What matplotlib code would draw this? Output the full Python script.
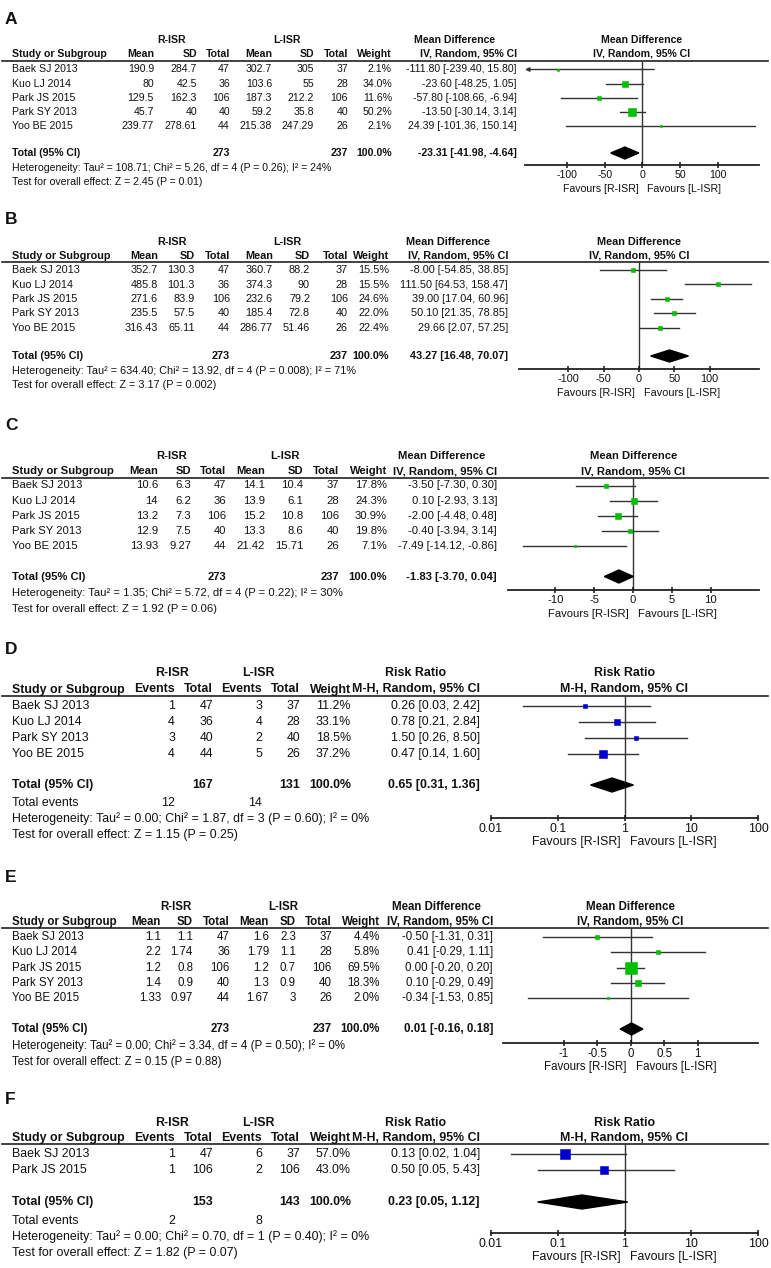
import numpy as np
import matplotlib.pyplot as plt
from matplotlib.patches import Polygon

plt.rcParams['font.family'] = ['Liberation Sans', 'DejaVu Sans']

W, H = 771, 1268

# ---------------- data ----------------
studies5 = ['Baek SJ 2013', 'Kuo LJ 2014', 'Park JS 2015', 'Park SY 2013', 'Yoo BE 2015']
r_n5 = [47, 36, 106, 40, 44]
l_n5 = [37, 28, 106, 40, 26]
md_totals = [273, 237]

# A
a_r_mean = [190.9, 80, 129.5, 45.7, 239.77]
a_r_sd = [284.7, 42.5, 162.3, 40, 278.61]
a_l_mean = [302.7, 103.6, 187.3, 59.2, 215.38]
a_l_sd = [305, 55, 212.2, 35.8, 247.29]
a_weight = [2.1, 34.0, 11.6, 50.2, 2.1]
a_est = [-111.80, -23.60, -57.80, -13.50, 24.39]
a_lo = [-239.40, -48.25, -108.66, -30.14, -101.36]
a_hi = [15.80, 1.05, -6.94, 3.14, 150.14]
a_pooled = [-23.31, -41.98, -4.64]
a_het = 'Heterogeneity: Tau² = 108.71; Chi² = 5.26, df = 4 (P = 0.26); I² = 24%'
a_test = 'Test for overall effect: Z = 2.45 (P = 0.01)'

# B
b_r_mean = [352.7, 485.8, 271.6, 235.5, 316.43]
b_r_sd = [130.3, 101.3, 83.9, 57.5, 65.11]
b_l_mean = [360.7, 374.3, 232.6, 185.4, 286.77]
b_l_sd = [88.2, 90, 79.2, 72.8, 51.46]
b_weight = [15.5, 15.5, 24.6, 22.0, 22.4]
b_est = [-8.00, 111.50, 39.00, 50.10, 29.66]
b_lo = [-54.85, 64.53, 17.04, 21.35, 2.07]
b_hi = [38.85, 158.47, 60.96, 78.85, 57.25]
b_pooled = [43.27, 16.48, 70.07]
b_het = 'Heterogeneity: Tau² = 634.40; Chi² = 13.92, df = 4 (P = 0.008); I² = 71%'
b_test = 'Test for overall effect: Z = 3.17 (P = 0.002)'

# C
c_r_mean = [10.6, 14, 13.2, 12.9, 13.93]
c_r_sd = [6.3, 6.2, 7.3, 7.5, 9.27]
c_l_mean = [14.1, 13.9, 15.2, 13.3, 21.42]
c_l_sd = [10.4, 6.1, 10.8, 8.6, 15.71]
c_weight = [17.8, 24.3, 30.9, 19.8, 7.1]
c_est = [-3.50, 0.10, -2.00, -0.40, -7.49]
c_lo = [-7.30, -2.93, -4.48, -3.94, -14.12]
c_hi = [0.30, 3.13, 0.48, 3.14, -0.86]
c_pooled = [-1.83, -3.70, 0.04]
c_het = 'Heterogeneity: Tau² = 1.35; Chi² = 5.72, df = 4 (P = 0.22); I² = 30%'
c_test = 'Test for overall effect: Z = 1.92 (P = 0.06)'

# D
d_studies = ['Baek SJ 2013', 'Kuo LJ 2014', 'Park SY 2013', 'Yoo BE 2015']
d_r_ev = [1, 4, 3, 4]
d_r_n = [47, 36, 40, 44]
d_l_ev = [3, 4, 2, 5]
d_l_n = [37, 28, 40, 26]
d_weight = [11.2, 33.1, 18.5, 37.2]
d_est = [0.26, 0.78, 1.50, 0.47]
d_lo = [0.03, 0.21, 0.26, 0.14]
d_hi = [2.42, 2.84, 8.50, 1.60]
d_totals = [167, 131]
d_events = [12, 14]
d_pooled = [0.65, 0.31, 1.36]
d_het = 'Heterogeneity: Tau² = 0.00; Chi² = 1.87, df = 3 (P = 0.60); I² = 0%'
d_test = 'Test for overall effect: Z = 1.15 (P = 0.25)'

# E
e_r_mean = [1.1, 2.2, 1.2, 1.4, 1.33]
e_r_sd = [1.1, 1.74, 0.8, 0.9, 0.97]
e_l_mean = [1.6, 1.79, 1.2, 1.3, 1.67]
e_l_sd = [2.3, 1.1, 0.7, 0.9, 3]
e_weight = [4.4, 5.8, 69.5, 18.3, 2.0]
e_est = [-0.50, 0.41, 0.00, 0.10, -0.34]
e_lo = [-1.31, -0.29, -0.20, -0.29, -1.53]
e_hi = [0.31, 1.11, 0.20, 0.49, 0.85]
e_pooled = [0.01, -0.16, 0.18]
e_het = 'Heterogeneity: Tau² = 0.00; Chi² = 3.34, df = 4 (P = 0.50); I² = 0%'
e_test = 'Test for overall effect: Z = 0.15 (P = 0.88)'

# F
f_studies = ['Baek SJ 2013', 'Park JS 2015']
f_r_ev = [1, 1]
f_r_n = [47, 106]
f_l_ev = [6, 2]
f_l_n = [37, 106]
f_weight = [57.0, 43.0]
f_est = [0.13, 0.50]
f_lo = [0.02, 0.05]
f_hi = [1.04, 5.43]
f_totals = [153, 143]
f_events = [2, 8]
f_pooled = [0.23, 0.05, 1.12]
f_het = 'Heterogeneity: Tau² = 0.00; Chi² = 0.70, df = 1 (P = 0.40); I² = 0%'
f_test = 'Test for overall effect: Z = 1.82 (P = 0.07)'

md_ticks = {'A': [-100, -50, 0, 50, 100], 'B': [-100, -50, 0, 50, 100],
            'C': [-10, -5, 0, 5, 10], 'E': [-1, -0.5, 0, 0.5, 1]}
rr_ticks = [0.01, 0.1, 1, 10, 100]
rr_ticklabels = ['0.01', '0.1', '1', '10', '100']


def md_rows(r_mean, r_sd, l_mean, l_sd, weight, est, lo, hi):
    rows = []
    for i in range(len(studies5)):
        rows.append([studies5[i], '%g' % r_mean[i], '%g' % r_sd[i], '%d' % r_n5[i],
                     '%g' % l_mean[i], '%g' % l_sd[i], '%d' % l_n5[i],
                     '%.1f%%' % weight[i], '%.2f [%.2f, %.2f]' % (est[i], lo[i], hi[i])])
    return rows


def rr_rows(studies, r_ev, r_n, l_ev, l_n, weight, est, lo, hi):
    rows = []
    for i in range(len(studies)):
        rows.append([studies[i], '%d' % r_ev[i], '%d' % r_n[i], '%d' % l_ev[i], '%d' % l_n[i],
                     '%.1f%%' % weight[i], '%.2f [%.2f, %.2f]' % (est[i], lo[i], hi[i])])
    return rows


# layout of each panel (pixel positions, y from top)
panels = [
    dict(letter='A', kind='md', fs=7.6, label=20, h1=40, h2=54, line=60.5, row0=69.5, step=14.2,
         total=153, het=168, test=182, axis=165, cols=[154, 197, 230, 272, 314, 348, 392, 517],
         grp=[172, 287], axpx=[525, 759], xlim=(-156, 155), sq=1.13, dia=6,
         rows=md_rows(a_r_mean, a_r_sd, a_l_mean, a_l_sd, a_weight, a_est, a_lo, a_hi),
         est=a_est, lo=a_lo, hi=a_hi, weight=a_weight, pooled=a_pooled, totals=md_totals,
         het_s=a_het, test_s=a_test),
    dict(letter='B', kind='md', fs=7.85, label=220, h1=242, h2=256, line=261.5, row0=270, step=14.5,
         total=356, het=371, test=385, axis=369, cols=[158, 195, 230, 273, 310, 348, 389, 508],
         grp=[172, 287], axpx=[519, 759], xlim=(-170, 170), sq=1.0, dia=6,
         rows=md_rows(b_r_mean, b_r_sd, b_l_mean, b_l_sd, b_weight, b_est, b_lo, b_hi),
         est=b_est, lo=b_lo, hi=b_hi, weight=b_weight, pooled=b_pooled, totals=md_totals,
         het_s=b_het, test_s=b_test),
    dict(letter='C', kind='md', fs=8.1, label=426, h1=456, h2=471.5, line=477.5, row0=485.5, step=15.2,
         total=576.5, het=593, test=609, axis=590, cols=[158, 191, 226, 265, 303, 339, 387, 497],
         grp=[172, 285], axpx=[508, 759], xlim=(-16.1, 16.2), sq=1.08, dia=6.5,
         rows=md_rows(c_r_mean, c_r_sd, c_l_mean, c_l_sd, c_weight, c_est, c_lo, c_hi),
         est=c_est, lo=c_lo, hi=c_hi, weight=c_weight, pooled=c_pooled, totals=md_totals,
         het_s=c_het, test_s=c_test),
    dict(letter='D', kind='rr', fs=8.9, label=650, h1=673.5, h2=689.5, line=696, row0=706, step=16,
         total=785, events=803, het=819, test=835, axis=818, cols=[175, 213, 262, 300, 351, 480],
         grp=[172, 258], axpx=[491, 758], xlim=(0.01, 100), sq=1.15, dia=7,
         rows=rr_rows(d_studies, d_r_ev, d_r_n, d_l_ev, d_l_n, d_weight, d_est, d_lo, d_hi),
         est=d_est, lo=d_lo, hi=d_hi, weight=d_weight, pooled=d_pooled, totals=d_totals,
         ev=d_events, het_s=d_het, test_s=d_test),
    dict(letter='E', kind='md', fs=8.3, label=877, h1=907, h2=922, line=927.5, row0=937, step=15.3,
         total=1029, het=1046, test=1062, axis=1043, cols=[161, 193, 230, 269, 296, 332, 380, 493],
         grp=[176, 283], axpx=[503, 758], xlim=(-1.91, 1.9), sq=1.44, dia=6,
         rows=md_rows(e_r_mean, e_r_sd, e_l_mean, e_l_sd, e_weight, e_est, e_lo, e_hi),
         est=e_est, lo=e_lo, hi=e_hi, weight=e_weight, pooled=e_pooled, totals=md_totals,
         het_s=e_het, test_s=e_test),
    dict(letter='F', kind='rr', fs=8.9, label=1100, h1=1123, h2=1138, line=1144, row0=1154, step=16.3,
         total=1202, events=1221, het=1237, test=1253, axis=1233, cols=[175, 213, 262, 300, 351, 480],
         grp=[172, 258], axpx=[491, 758], xlim=(0.01, 100), sq=1.32, dia=7,
         rows=rr_rows(f_studies, f_r_ev, f_r_n, f_l_ev, f_l_n, f_weight, f_est, f_lo, f_hi),
         est=f_est, lo=f_lo, hi=f_hi, weight=f_weight, pooled=f_pooled, totals=f_totals,
         ev=f_events, het_s=f_het, test_s=f_test),
]

fig = plt.figure(figsize=(W / 100, H / 100), dpi=100)
bg = fig.add_axes([0, 0, 1, 1])
bg.set_xlim(0, W)
bg.set_ylim(H, 0)
bg.axis('off')


def put(x, y, s, fs, ha='left', bold=False):
    bg.text(x, y, s, fontsize=fs, ha=ha, va='center', color='#111111',
            fontweight='bold' if bold else 'normal')


def draw_table(p):
    fs = p['fs']
    cols = p['cols']
    put(5, p['label'], p['letter'], 12.5, bold=True)
    put(p['grp'][0], p['h1'], 'R-ISR', fs, ha='center', bold=True)
    put(p['grp'][1], p['h1'], 'L-ISR', fs, ha='center', bold=True)
    if p['kind'] == 'md':
        effect, method = 'Mean Difference', 'IV, Random, 95% CI'
        names = ['Mean', 'SD', 'Total', 'Mean', 'SD', 'Total', 'Weight', method]
        n_cols = [cols[2], cols[5]]
    else:
        effect, method = 'Risk Ratio', 'M-H, Random, 95% CI'
        names = ['Events', 'Total', 'Events', 'Total', 'Weight', method]
        n_cols = [cols[1], cols[3]]
    put((cols[-2] + cols[-1]) / 2, p['h1'], effect, fs, ha='center', bold=True)
    put(12, p['h2'], 'Study or Subgroup', fs, bold=True)
    for x, name in zip(cols, names):
        put(x, p['h2'], name, fs, ha='right', bold=True)
    bg.plot([2, 768], [p['line'], p['line']], color='#222222', lw=1.2)

    for i, row in enumerate(p['rows']):
        ry = p['row0'] + i * p['step']
        put(12, ry, row[0], fs)
        for x, val in zip(cols, row[1:]):
            put(x, ry, val, fs, ha='right')

    # total row
    put(12, p['total'], 'Total (95% CI)', fs, bold=True)
    put(n_cols[0], p['total'], '%d' % p['totals'][0], fs, ha='right', bold=True)
    put(n_cols[1], p['total'], '%d' % p['totals'][1], fs, ha='right', bold=True)
    put(cols[-2], p['total'], '100.0%', fs, ha='right', bold=True)
    put(cols[-1], p['total'], '%.2f [%.2f, %.2f]' % tuple(p['pooled']), fs, ha='right', bold=True)
    if p['kind'] == 'rr':
        put(12, p['events'], 'Total events', fs)
        put(cols[0], p['events'], '%d' % p['ev'][0], fs, ha='right')
        put(cols[2], p['events'], '%d' % p['ev'][1], fs, ha='right')
    put(12, p['het'], p['het_s'], fs)
    put(12, p['test'], p['test_s'], fs)

    # header of the forest part
    cx = (p['axpx'][0] + p['axpx'][1]) / 2
    put(cx, p['h1'], effect, fs, ha='center', bold=True)
    put(cx, p['h2'], method, fs, ha='center', bold=True)


def draw_forest(p):
    x0, x1 = p['axpx']
    top, bot = p['line'], p['axis']
    ax = fig.add_axes([x0 / W, 1 - bot / H, (x1 - x0) / W, (bot - top) / H])
    ax.patch.set_alpha(0)
    if p['kind'] == 'rr':
        ax.set_xscale('log')
        null = 1
        color = '#0000CC'
        ticks, labels = rr_ticks, rr_ticklabels
    else:
        null = 0
        color = '#00C000'
        ticks = md_ticks[p['letter']]
        labels = ['%g' % t for t in ticks]
    xmin, xmax = p['xlim']
    ax.set_xlim(xmin, xmax)
    ax.set_ylim(bot, top)
    ax.axvline(null, color='#333333', lw=1.0, zorder=1)

    for i in range(len(p['est'])):
        ry = p['row0'] + i * p['step']
        lo, hi = p['lo'][i], p['hi'][i]
        if lo < xmin:
            ax.annotate('', xy=(xmin, ry), xytext=(min(hi, xmax), ry),
                        arrowprops=dict(arrowstyle='-|>', color='#333333', lw=1.0,
                                        mutation_scale=6, shrinkA=0, shrinkB=0))
        else:
            ax.plot([lo, min(hi, xmax)], [ry, ry], color='#333333', lw=1.0, zorder=2)
        side = max(p['sq'] * np.sqrt(p['weight'][i]), 2.5)
        ax.plot(p['est'][i], ry, marker='s', ms=side * 0.72, color=color, mec=color,
                mew=0.4, ls='none', zorder=3, clip_on=False)

    e, lo, hi = p['pooled']
    ty, h = p['total'], p['dia']
    ax.add_patch(Polygon([(lo, ty), (e, ty - h), (hi, ty), (e, ty + h)], closed=True,
                         facecolor='black', edgecolor='black', zorder=3))

    for s in ['top', 'left', 'right']:
        ax.spines[s].set_visible(False)
    ax.spines['bottom'].set_linewidth(1.3)
    ax.spines['bottom'].set_color('#222222')
    ax.set_yticks([])
    ax.minorticks_off()
    ax.set_xticks(ticks)
    ax.set_xticklabels(labels)
    ax.tick_params(axis='x', direction='inout', length=5, width=1.1, pad=1.2,
                   labelsize=p['fs'], colors='#111111')
    ax.annotate('Favours [R-ISR]', xy=(null, 0), xycoords=('data', 'axes fraction'),
                xytext=(-4, -24), textcoords='offset pixels', ha='right', va='center',
                fontsize=p['fs'], color='#111111')
    ax.annotate('Favours [L-ISR]', xy=(null, 0), xycoords=('data', 'axes fraction'),
                xytext=(5, -24), textcoords='offset pixels', ha='left', va='center',
                fontsize=p['fs'], color='#111111')


for p in panels:
    draw_table(p)
    draw_forest(p)

fig.savefig('out.png', dpi=100)
